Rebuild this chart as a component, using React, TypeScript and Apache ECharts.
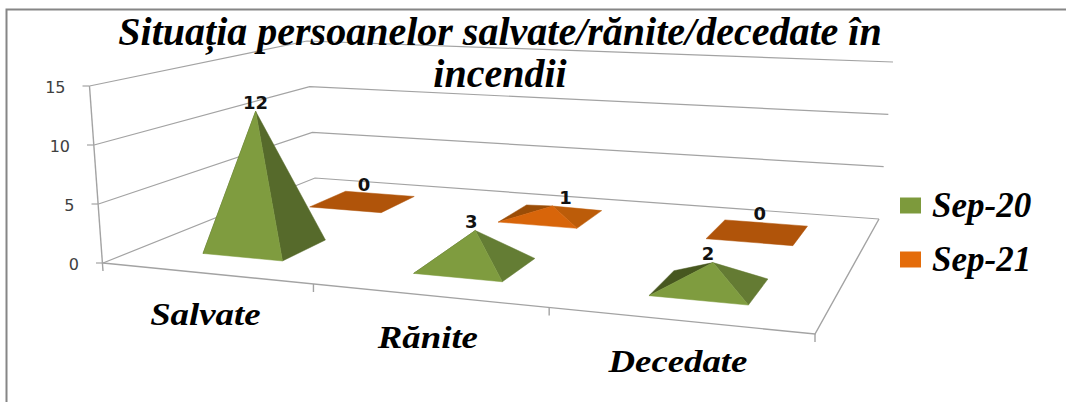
import React, { useEffect, useRef } from "react";
import * as echarts from "echarts";

const titleLines = ["Situația persoanelor salvate/rănite/decedate în", "incendii"];
const categories = ["Salvate", "Rănite", "Decedate"];
const seriesNames = ["Sep-20", "Sep-21"];
const sep20 = [12, 3, 2];
const sep21 = [0, 1, 0];
const yTicks = [0, 5, 10, 15];

const SERIF = "'Liberation Serif', serif";
const SANS = "'DejaVu Sans', sans-serif";
const GRID = "#a3a3a3";

type Pt = [number, number];
// quadrilateral corners in order: front-left, front-right, back-right, back-left
const floorQuad: Pt[] = [[103, 263], [815, 334], [879, 219], [315, 178]];
const topQuad: Pt[] = [[89.5, 86], [836, 130], [893, 62], [307, 41]];

function homography(q: Pt[]) {
  const [p0, p1, p2, p3] = q;
  const sx = p0[0] - p1[0] + p2[0] - p3[0];
  const sy = p0[1] - p1[1] + p2[1] - p3[1];
  const dx1 = p1[0] - p2[0], dx2 = p3[0] - p2[0];
  const dy1 = p1[1] - p2[1], dy2 = p3[1] - p2[1];
  const det = dx1 * dy2 - dx2 * dy1;
  const g = (sx * dy2 - dx2 * sy) / det;
  const h = (dx1 * sy - sx * dy1) / det;
  const a = p1[0] - p0[0] + g * p1[0];
  const b = p3[0] - p0[0] + h * p3[0];
  const d = p1[1] - p0[1] + g * p1[1];
  const e = p3[1] - p0[1] + h * p3[1];
  return (u: number, v: number): Pt => {
    const w = g * u + h * v + 1;
    return [(a * u + b * v + p0[0]) / w, (d * u + e * v + p0[1]) / w];
  };
}
const floorH = homography(floorQuad);
const topH = homography(topQuad);
// u: across categories 0..1, v: depth 0..1, t: height fraction 0..1
function project(u: number, v: number, t: number): Pt {
  const a = floorH(u, v), b = topH(u, v);
  return [a[0] + (b[0] - a[0]) * t, a[1] + (b[1] - a[1]) * t];
}

const DEPTH = [0.25, 0.762];
const BAND_FRACTION = 0.39;
const HALF_V = 0.103;
const BASE_U_SHIFT = 0.003;
const APEX_U_SHIFT = 0.007;
const LABEL_NUDGE = [[0, -4, -5], [-14, 13, -4]];
const greenFront = "#7f9c3f";
const greenRight = ["#566a2b", "#647d34", "#647b33"];
const greenLeft = "#47571f";
const orangeFront = "#d8650a";
const orangeRight = "#bc5c09";
const orangeLeft = "#9b4d07";
const orangePlate = "#b0540a";

function pyramidItem(seriesIdx: number) {
  return (params: any, api: any) => {
    const cs = params.coordSys;
    const i = api.value(0);
    const val = api.value(1);
    const c = api.coord([i, val]);
    const band = api.size([1, 0])[0];
    const uc = (c[0] - cs.x) / cs.width;
    const t = (cs.y + cs.height - c[1]) / cs.height;
    const du = (band / cs.width) * BAND_FRACTION * 0.5;
    const v = DEPTH[seriesIdx];
    const ub = uc + BASE_U_SHIFT;
    const fl = project(ub - du, v - HALF_V, 0);
    const fr = project(ub + du, v - HALF_V, 0);
    const br = project(ub + du, v + HALF_V, 0);
    const bl = project(ub - du, v + HALF_V, 0);
    const apex = project(uc + APEX_U_SHIFT, v, t);
    const poly = (pts: Pt[], fill: string) => ({
      type: "polygon",
      shape: { points: pts },
      style: { fill, stroke: fill, lineWidth: 0.5 },
    });
    const children: any[] = [];
    if (val === 0) {
      children.push(poly([fl, fr, br, bl], orangePlate));
    } else if (seriesIdx === 0) {
      children.push(poly([bl, fl, apex], greenLeft));
      children.push(poly([fr, br, apex], greenRight[i]));
      children.push(poly([fl, fr, apex], greenFront));
    } else {
      children.push(poly([bl, fl, apex], orangeLeft));
      children.push(poly([fr, br, apex], orangeRight));
      children.push(poly([fl, fr, apex], orangeFront));
    }
    const top = val === 0 ? project(uc, v + HALF_V, 0) : apex;
    children.push({
      type: "text",
      x: top[0] + LABEL_NUDGE[seriesIdx][i],
      y: top[1] - 9,
      style: {
        text: String(val),
        fontFamily: SANS,
        fontWeight: "bold",
        fontSize: 18,
        fill: "#111",
        align: "center",
        verticalAlign: "middle",
      },
    });
    return { type: "group", children };
  };
}

function wallItem(params: any, api: any) {
  const cs = params.coordSys;
  const val = api.value(1);
  const c = api.coord([0, val]);
  const t = (cs.y + cs.height - c[1]) / cs.height;
  const a = project(0, 0, t), b = project(0, 1, t), d = project(1, 1, t);
  const lineStyle = { stroke: GRID, lineWidth: 1.2, fill: "none" };
  return {
    type: "group",
    children: [
      { type: "polyline", shape: { points: [a, b, d] }, style: lineStyle },
      { type: "line", shape: { x1: a[0] - 7, y1: a[1], x2: a[0], y2: a[1] }, style: lineStyle },
      {
        type: "text",
        x: a[0] - 24,
        y: a[1] + 1,
        style: {
          text: String(val),
          fontFamily: SANS,
          fontSize: 16,
          fill: "#404040",
          align: "right",
          verticalAlign: "middle",
        },
      },
    ],
  };
}

function catItem(params: any, api: any) {
  const cs = params.coordSys;
  const i = api.value(0);
  const c = api.coord([i, 0]);
  const band = api.size([1, 0])[0];
  const uc = (c[0] - cs.x) / cs.width;
  const uEnd = (c[0] + band / 2 - cs.x) / cs.width;
  const tickEnd = project(uEnd, 0, 0);
  const lbl = project(uc, 0, 0);
  const lineStyle = { stroke: GRID, lineWidth: 1.4, fill: "none" };
  const children: any[] = [
    { type: "line", shape: { x1: tickEnd[0], y1: tickEnd[1], x2: tickEnd[0], y2: tickEnd[1] + 8 }, style: lineStyle },
    {
      type: "text",
      x: lbl[0],
      y: lbl[1] + 41,
      scaleX: 1.15,
      style: {
        text: categories[i],
        fontFamily: SERIF,
        fontStyle: "italic",
        fontWeight: "bold",
        fontSize: 32,
        fill: "#000",
        align: "center",
        verticalAlign: "middle",
      },
    },
  ];
  if (i === 0) {
    const o = project(0, 0, 0), r = project(1, 0, 0), br = project(1, 1, 0), tl = project(0, 0, 1);
    children.push(
      { type: "polyline", shape: { points: [tl, [o[0], o[1] + 8]] }, style: lineStyle },
      { type: "polyline", shape: { points: [o, r, br] }, style: lineStyle }
    );
  }
  return { type: "group", children };
}

export default function App() {
  const ref = useRef<HTMLDivElement>(null);
  useEffect(() => {
    const chart = echarts.init(ref.current!, undefined, { renderer: "svg" });
    chart.setOption({
      animation: false,
      backgroundColor: "#fff",
      title: {
        text: titleLines.join("\n"),
        left: 495,
        top: 5,
        textAlign: "center",
        textStyle: {
          fontFamily: SERIF,
          fontStyle: "italic",
          fontWeight: "bold",
          fontSize: 40,
          lineHeight: 42,
          color: "#000",
        },
      },
      legend: {
        data: seriesNames,
        orient: "vertical",
        left: 895,
        top: 183,
        itemWidth: 21,
        itemHeight: 16,
        itemGap: 19,
        icon: "rect",
        textStyle: {
          fontFamily: SERIF,
          fontStyle: "italic",
          fontWeight: "bold",
          fontSize: 35,
          color: "#000",
          padding: [0, 0, 0, 6],
        },
      },
      grid: { left: 0, right: 0, top: 0, bottom: 0 },
      xAxis: { type: "category", data: categories, show: false },
      yAxis: { type: "value", min: 0, max: 15, interval: 5, show: false },
      graphic: [
        {
          type: "rect",
          shape: { x: 6.5, y: 9.5, width: 1200, height: 600 },
          style: { fill: "none", stroke: "#868686", lineWidth: 2 },
          z: 0,
          silent: true,
        },
      ],
      series: [
        {
          type: "custom",
          name: "walls",
          z: 1,
          renderItem: wallItem,
          data: yTicks.map((v) => [0, v]),
          silent: true,
        },
        {
          type: "custom",
          name: "categories",
          z: 1,
          renderItem: catItem,
          data: categories.map((_, i) => [i, 0]),
          silent: true,
        },
        {
          type: "custom",
          name: seriesNames[1],
          z: 2,
          itemStyle: { color: "#e46c0a" },
          renderItem: pyramidItem(1),
          data: sep21.map((v, i) => [i, v]),
          silent: true,
        },
        {
          type: "custom",
          name: seriesNames[0],
          z: 3,
          itemStyle: { color: "#7d9a3c" },
          renderItem: pyramidItem(0),
          data: sep20.map((v, i) => [i, v]),
          silent: true,
        },
      ],
    });
    return () => chart.dispose();
  }, []);
  return <div ref={ref} style={{ position: "fixed", left: 0, top: 0, width: 1066, height: 402 }} />;
}
